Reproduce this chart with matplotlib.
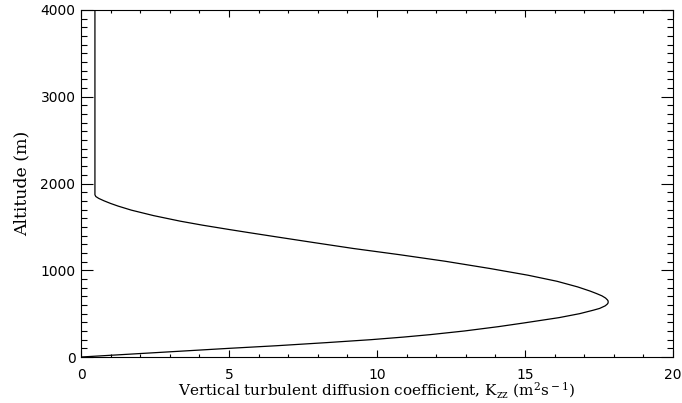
import numpy as np
import matplotlib
matplotlib.use("Agg")
import matplotlib.pyplot as plt
from matplotlib.ticker import MultipleLocator

altitude = [0, 50, 100, 130, 166, 200, 230, 258, 300, 350, 392, 454, 500,
            539, 560, 590, 610, 622, 635, 648, 660, 680, 705, 731, 760, 808,
            873, 943, 1020, 1104, 1180, 1251, 1320, 1385, 1435, 1470, 1520,
            1566, 1630, 1693, 1740, 1770, 1800, 1828, 1850, 1870, 4000]
kzz = [0.0, 2.5, 5.0, 6.6, 8.3, 9.8, 10.9, 11.8, 12.95, 14.1, 14.95, 16.15,
       16.85, 17.3, 17.52, 17.71, 17.78, 17.805, 17.81, 17.805, 17.78, 17.72,
       17.6, 17.42, 17.2, 16.78, 16.08, 15.1, 13.82, 12.3, 10.75, 9.2, 7.85,
       6.6, 5.65, 5.0, 4.1, 3.35, 2.45, 1.7, 1.25, 1.0, 0.78, 0.6, 0.5, 0.47,
       0.47]

plt.rcParams['mathtext.fontset'] = 'dejavuserif'

fig = plt.figure(figsize=(6.82, 4.03), dpi=100)
ax = fig.add_axes([0.1188, 0.1141, 0.868, 0.8611])

ax.plot(kzz, altitude, color='black', linewidth=0.9)

ax.set_xlim(0, 20)
ax.set_ylim(0, 4000)
ax.xaxis.set_major_locator(MultipleLocator(5))
ax.xaxis.set_minor_locator(MultipleLocator(1))
ax.yaxis.set_major_locator(MultipleLocator(1000))
ax.yaxis.set_minor_locator(MultipleLocator(100))

ax.tick_params(axis='both', which='both', direction='in', top=True, right=True,
               width=0.8, colors='black', labelsize=10)
ax.tick_params(axis='x', which='major', length=5, pad=8)
ax.tick_params(axis='x', which='minor', length=2.5)
ax.tick_params(axis='y', which='major', length=8.4, pad=4)
ax.tick_params(axis='y', which='minor', length=4.1)
for s in ax.spines.values():
    s.set_linewidth(0.8)

ax.set_xlabel('Vertical turbulent diffusion coefficient, K$_{\\rm zz}$ (m$^{\\rm 2}$s$^{\\rm -1}$)',
              fontfamily='DejaVu Serif', fontsize=11, labelpad=-1)
ax.set_ylabel('Altitude (m)', fontfamily='DejaVu Serif', fontsize=12.5, labelpad=7)

fig.savefig('out.png', dpi=100)
